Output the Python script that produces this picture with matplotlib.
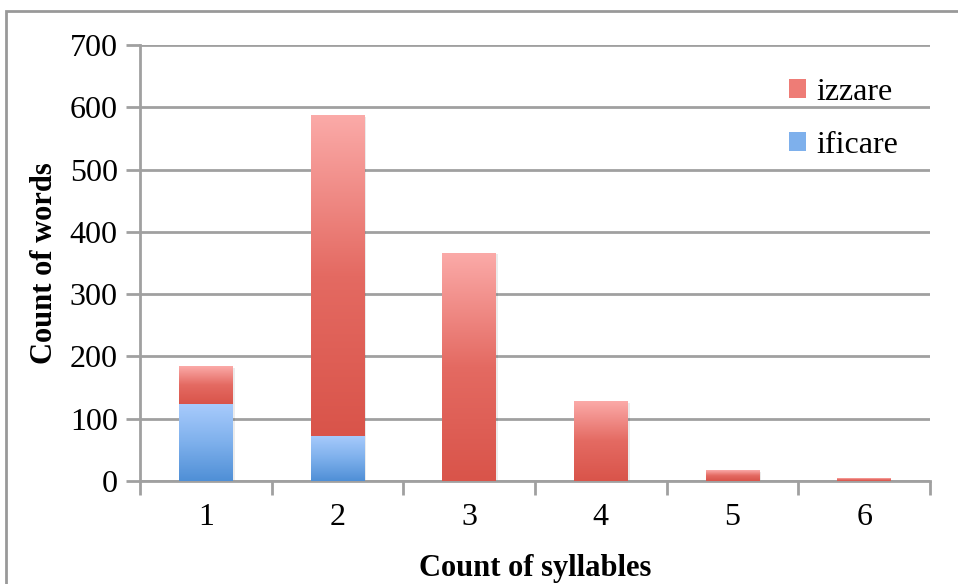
import numpy as np
import matplotlib
matplotlib.use("Agg")
import matplotlib.pyplot as plt
from matplotlib.colors import LinearSegmentedColormap
from matplotlib.patches import Patch, Rectangle

syllables = [1, 2, 3, 4, 5, 6]
ificare = [123, 73, 0, 0, 0, 0]
izzare = [60, 514, 366, 128, 17, 4]
yticks = [0, 100, 200, 300, 400, 500, 600, 700]

plt.rcParams['font.family'] = ['Liberation Serif', 'DejaVu Serif']

red_cmap = LinearSegmentedColormap.from_list('red', ['#d9544a', '#e46a62', '#fbaaa8'])
blue_cmap = LinearSegmentedColormap.from_list('blue', ['#4f8fd6', '#7eb0ec', '#a8cbfc'])

fig = plt.figure(figsize=(9.58, 5.84), dpi=100)
ax = fig.add_axes([140 / 958, 1 - 481 / 584, 790 / 958, 436 / 584])

x = np.array(syllables)
width = 0.41
grad = np.linspace(0, 1, 256).reshape(-1, 1)


def grad_bars(bottoms, heights, cmap):
    bars = ax.bar(x, heights, width, bottom=bottoms, color='none', edgecolor='none', zorder=3)
    for b in bars:
        x0, y0 = b.get_x(), b.get_y()
        w, h = b.get_width(), b.get_height()
        if h <= 0:
            continue
        # soft shadow
        ax.add_patch(Rectangle((x0 + 0.015, y0 - 2), w, h, color='#000000', alpha=0.08, zorder=2, lw=0))
        ax.imshow(grad, cmap=cmap, extent=[x0, x0 + w, y0, y0 + h], origin='lower',
                  aspect='auto', zorder=3, interpolation='bilinear')


grad_bars(np.zeros(len(x)), ificare, blue_cmap)
grad_bars(np.array(ificare), izzare, red_cmap)

ax.set_xlim(0.5, 6.5)
ax.set_ylim(0, 700)
ax.set_yticks(yticks)
ax.set_xticks(x)
ax.set_xticks(np.arange(0.5, 7, 1), minor=True)
ax.tick_params(axis='x', which='major', length=0, labelsize=23, pad=16)
ax.tick_params(axis='x', which='minor', length=10, width=2, color='#a0a0a0', direction='out')
ax.tick_params(axis='y', length=10, width=2, color='#a0a0a0', labelsize=23, pad=6)
ax.grid(axis='y', color='#a0a0a0', linewidth=2, zorder=0)
ax.set_axisbelow(True)
for s in ['top', 'right']:
    ax.spines[s].set_visible(False)
for s in ['left', 'bottom']:
    ax.spines[s].set_color('#a0a0a0')
    ax.spines[s].set_linewidth(2)

ax.set_xlabel('Count of syllables', fontsize=22, fontweight='bold', labelpad=16)
ax.set_ylabel('Count of words', fontsize=22, fontweight='bold', labelpad=8)

handles = [Patch(facecolor='#ee7c76', edgecolor='none'), Patch(facecolor='#7eb0ec', edgecolor='none')]
ax.legend(handles, ['izzare', 'ificare'], loc='upper left', bbox_to_anchor=(0.785, 0.99),
          frameon=False, fontsize=23, handlelength=0.55, handleheight=0.55,
          handletextpad=0.3, labelspacing=0.75)

# outer chart frame
fig.add_artist(Rectangle((6 / 958, -0.1), 1.2, 1 - 11 / 584 + 0.1, transform=fig.transFigure,
                         fill=False, edgecolor='#999999', linewidth=2))

fig.savefig('out.png', dpi=100)
